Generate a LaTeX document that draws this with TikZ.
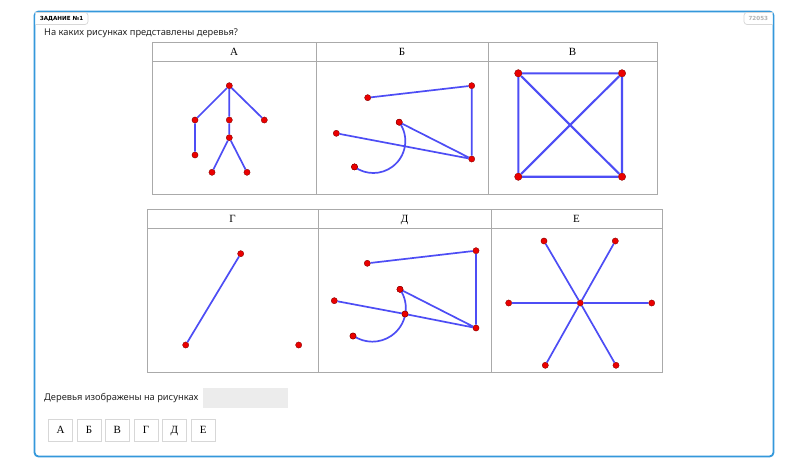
\documentclass[tikz,border=0pt]{standalone}
\usepackage{fontspec}
\setmainfont{Noto Sans}
\newfontfamily\serifcyr{Liberation Serif}
\newfontfamily\lblfont{DejaVu Sans}
\definecolor{frameblue}{RGB}{52,152,219}
\definecolor{edgeblue}{RGB}{77,77,245}
\definecolor{dotred}{RGB}{235,0,0}
\definecolor{tblgray}{RGB}{170,170,170}
\definecolor{btngray}{RGB}{215,215,215}
\definecolor{fieldgray}{RGB}{236,236,236}
\tikzset{
  dot/.style={circle,fill=dotred,draw=dotred!55!black,line width=0.35pt,inner sep=0pt,minimum size=6.2pt},
  bigdot/.style={dot,minimum size=7.4pt},
  edge/.style={draw=edgeblue,line width=1.7pt},
  bigedge/.style={draw=edgeblue,line width=2.1pt},
  tbl/.style={draw=tblgray,line width=0.9pt},
  hdr/.style={font=\serifcyr\fontsize{11}{13}\selectfont,inner sep=0pt,text height=7.3pt,text depth=0pt},
  btn/.style={draw=btngray,line width=0.8pt,minimum width=24pt,minimum height=22.5pt,inner sep=0pt,text height=7.3pt,text depth=0pt,font=\serifcyr\fontsize{11}{13}\selectfont},
  txt/.style={font=\fontsize{9.3}{11}\selectfont,inner sep=0pt,anchor=west,text=black!85},
  tag/.style={font=\lblfont\bfseries\fontsize{5.6}{7}\selectfont,inner sep=0pt}
}
\begin{document}
\begin{tikzpicture}[x=1pt,y=-1pt]
\useasboundingbox (0,0) rectangle (800,458);
\fill[white] (0,0) rectangle (800,458);
% outer frame
\draw[frameblue,line width=1.8pt,rounded corners=4pt] (34.5,11.5) rectangle (773.5,456.5);
% labels at top
\draw[btngray,line width=0.7pt,fill=white,rounded corners=3pt] (35.4,12.4) -- (88,12.4) -- (88,24.5) -- (35.4,24.5);
\node[tag] (zad) at (61.5,18.6) {ЗАДАНИЕ №1};
\draw[btngray,line width=0.7pt,fill=white,rounded corners=3pt] (772.6,12.4) -- (744,12.4) -- (744,24.5) -- (772.6,24.5);
\node[tag,text=black!30] (num) at (758.3,18.6) {72053};
\node[txt] (q) at (44,33.5) {На каких рисунках представлены деревья?};
% table 1
\draw[tbl] (152,42) rectangle (657,194);
\draw[tbl] (152,61) -- (657,61);
\draw[tbl] (316,42) -- (316,194);
\draw[tbl] (488,42) -- (488,194);
\node[hdr] (hA) at (234,51.5) {А};
\node[hdr] (hB) at (402,51.5) {Б};
\node[hdr] (hV) at (572.5,51.5) {В};
% table 2
\draw[tbl] (147,209) rectangle (662,372);
\draw[tbl] (147,228) -- (662,228);
\draw[tbl] (318,209) -- (318,372);
\draw[tbl] (491,209) -- (491,372);
\node[hdr] (hG) at (232.5,218.5) {Г};
\node[hdr] (hD) at (404.5,218.5) {Д};
\node[hdr] (hE) at (576.5,218.5) {Е};
% graph A
\node[dot] (a1) at (229.3,85.7) {};
\node[dot] (a2) at (195,120) {};
\node[dot] (a3) at (229.3,120) {};
\node[dot] (a4) at (264.3,120) {};
\node[dot] (a5) at (195,155) {};
\node[dot] (a6) at (229.3,137.7) {};
\node[dot] (a7) at (212,172.3) {};
\node[dot] (a8) at (247,172.3) {};
\draw[edge] (a1) -- (a2) (a1) -- (a3) (a1) -- (a4) (a2) -- (a5) (a3) -- (a6) (a6) -- (a7) (a6) -- (a8);
% graph B
\node[dot] (b1) at (367.7,97.7) {};
\node[dot] (b2) at (471.7,85.7) {};
\node[dot] (b3) at (471.7,159) {};
\node[dot] (b4) at (399.2,122.2) {};
\node[dot] (b5) at (336.3,133.3) {};
\node[dot] (b6) at (354.5,166.9) {};
\draw[edge] (b1) -- (b2) (b2) -- (b3) (b4) -- (b3) (b5) -- (b3);
\draw[edge] (b4.center) arc[start angle=-36,end angle=126,radius=32];
\node[dot] at (b4) {};
\node[dot] at (b6) {};
% graph V
\node[bigdot] (v1) at (518.3,73.3) {};
\node[bigdot] (v2) at (622,73.3) {};
\node[bigdot] (v3) at (518.3,176.7) {};
\node[bigdot] (v4) at (622,176.7) {};
\draw[bigedge] (v1) -- (v2) (v2) -- (v4) (v4) -- (v3) (v3) -- (v1) (v1) -- (v4) (v2) -- (v3);
% graph G
\node[dot] (g1) at (240.7,253.7) {};
\node[dot] (g2) at (185.7,345) {};
\node[dot] (g3) at (298.7,345) {};
\draw[edge] (g1) -- (g2);
% graph D
\node[dot] (d1) at (367.3,263.3) {};
\node[dot] (d2) at (476,250.7) {};
\node[dot] (d3) at (476,328) {};
\node[dot] (d4) at (400,289.3) {};
\node[dot] (d5) at (334.3,300.7) {};
\node[dot] (d6) at (353,336) {};
\node[dot] (d7) at (405,314) {};
\draw[edge] (d1) -- (d2) (d2) -- (d3) (d4) -- (d3) (d5) -- (d7) (d7) -- (d3);
\draw[edge] (d4.center) arc[start angle=-34.3,end angle=124.8,radius=33.5];
\node[dot] at (d4) {};
\node[dot] at (d7) {};
\node[dot] at (d6) {};
% graph E
\node[dot] (e0) at (580.3,303) {};
\node[dot] (e1) at (508.7,303) {};
\node[dot] (e2) at (651.7,303) {};
\node[dot] (e3) at (544,241) {};
\node[dot] (e4) at (615.3,241) {};
\node[dot] (e5) at (545.3,365.3) {};
\node[dot] (e6) at (616,365.3) {};
\draw[edge] (e0) -- (e1) (e0) -- (e2) (e0) -- (e3) (e0) -- (e4) (e0) -- (e5) (e0) -- (e6);
% answer line
\node[txt] (ans) at (44,398.5) {Деревья изображены на рисунках};
\fill[fieldgray] (203.3,388.3) rectangle (287.7,407.7);
% buttons
\node[btn] (k1) at (60.5,430.3) {А};
\node[btn] (k2) at (89,430.3) {Б};
\node[btn] (k3) at (117.3,430.3) {В};
\node[btn] (k4) at (146,430.3) {Г};
\node[btn] (k5) at (174.3,430.3) {Д};
\node[btn] (k6) at (203.3,430.3) {Е};
\end{tikzpicture}
\end{document}
